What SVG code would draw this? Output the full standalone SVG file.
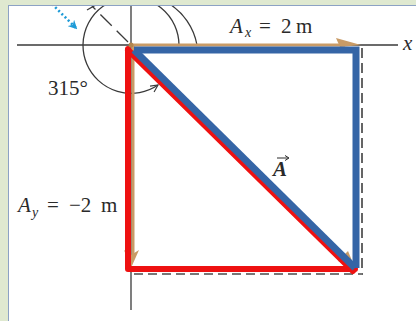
<svg xmlns="http://www.w3.org/2000/svg" width="416" height="321" viewBox="0 0 416 321">
<style>
.ax{stroke:#3a3a3a;stroke-width:1.3;fill:none}
.tan{stroke:#c99b66;fill:none}
.tanf{fill:#c99b66;stroke:none}
.red{stroke:#ee1111;stroke-width:6;fill:none;stroke-linejoin:round;stroke-linecap:round}
.blue{stroke:#3565a6;stroke-width:7;fill:none}
.lbl{font-family:"Liberation Serif","Times New Roman",serif;font-size:21px;fill:#2a2a2a}
.it{font-style:italic}
</style>
<defs>
<clipPath id="panel"><rect x="9" y="6" width="407" height="315"/></clipPath>
<marker id="chev" viewBox="0 0 10 10" refX="9" refY="5" markerWidth="9" markerHeight="9" markerUnits="userSpaceOnUse" orient="auto"><path d="M1 1 L9 5 L1 9" fill="none" stroke="#3a3a3a" stroke-width="1.3"/></marker>
<marker id="cyanhead" viewBox="0 0 10 10" refX="8" refY="5" markerWidth="9" markerHeight="9" markerUnits="userSpaceOnUse" orient="auto"><path d="M0 0 L10 5 L0 10 L3 5 Z" fill="#1e9bd7"/></marker>
</defs>
<rect x="0" y="0" width="416" height="321" fill="#dfe9d0"/>
<rect x="8.5" y="5.5" width="420" height="330" fill="#ffffff" stroke="#8ca2c4" stroke-width="1"/>
<g id="axes" clip-path="url(#panel)">
<line class="ax" x1="17" y1="45" x2="398" y2="45"/>
<line class="ax" x1="131" y1="5" x2="131" y2="310"/>
<path class="ax" d="M179 45 A48 48 0 1 0 158 85" marker-end="url(#chev)"/>
<path class="ax" d="M197 45 A62 62 0 0 0 168 3"/>
<line class="ax" x1="128" y1="42" x2="92" y2="6" stroke-dasharray="16,7"/>
<line class="ax" x1="87" y1="10" x2="101" y2="2"/>
<line x1="52" y1="4" x2="76" y2="28" stroke="#1e9bd7" stroke-width="2.6" stroke-dasharray="2,2.5" marker-end="url(#cyanhead)"/>
<line x1="362" y1="48" x2="362" y2="275" stroke="#333" stroke-width="1.5" stroke-dasharray="10,5"/>
<line x1="134" y1="274" x2="362" y2="274" stroke="#777" stroke-width="1.8" stroke-dasharray="9,5"/>
</g>
<g id="components">
<line class="tan" x1="131" y1="45" x2="345" y2="45" stroke-width="3.2"/>
<polygon class="tanf" points="336,38 361,45 340,47"/>
<line class="tan" x1="133" y1="46" x2="133" y2="258" stroke-width="3"/>
<polygon class="tanf" points="124,250 131,268 139,250 131,255"/>
<polygon class="tanf" points="338,261 355,268 348,251"/>
<path class="red" d="M128 49 L128 269 L355 269"/>
<line class="red" x1="128" y1="50" x2="353" y2="271"/>
</g>
<g id="vectorA">
<path class="blue" d="M134 50 L356 50 L356 268"/>
<line class="blue" x1="134" y1="50" x2="355" y2="268"/>
<circle cx="131" cy="45" r="2.5" fill="#b3864f"/>
</g>
<g id="labels">
<text class="lbl it" x="403" y="50">x</text>
<text class="lbl" x="230" y="33"><tspan class="it">A</tspan><tspan class="it" font-size="14" x="245" y="37">x</tspan><tspan x="259" y="33">=</tspan><tspan x="281" y="33">2</tspan><tspan x="296" y="33">m</tspan></text>
<text class="lbl" x="48" y="95">315°</text>
<text class="lbl" x="18" y="212"><tspan class="it">A</tspan><tspan class="it" font-size="14" x="32" y="217">y</tspan><tspan x="47" y="212">=</tspan><tspan x="69" y="212">−2</tspan><tspan x="101" y="212">m</tspan></text>
<text class="lbl it" x="273" y="176" font-weight="bold" font-size="19">A</text>
<line x1="277" y1="158" x2="288" y2="158" stroke="#2a2a2a" stroke-width="1"/>
<path d="M285 155.5 L289 158 L285 160.5" fill="none" stroke="#2a2a2a" stroke-width="1"/>
</g>
</svg>
